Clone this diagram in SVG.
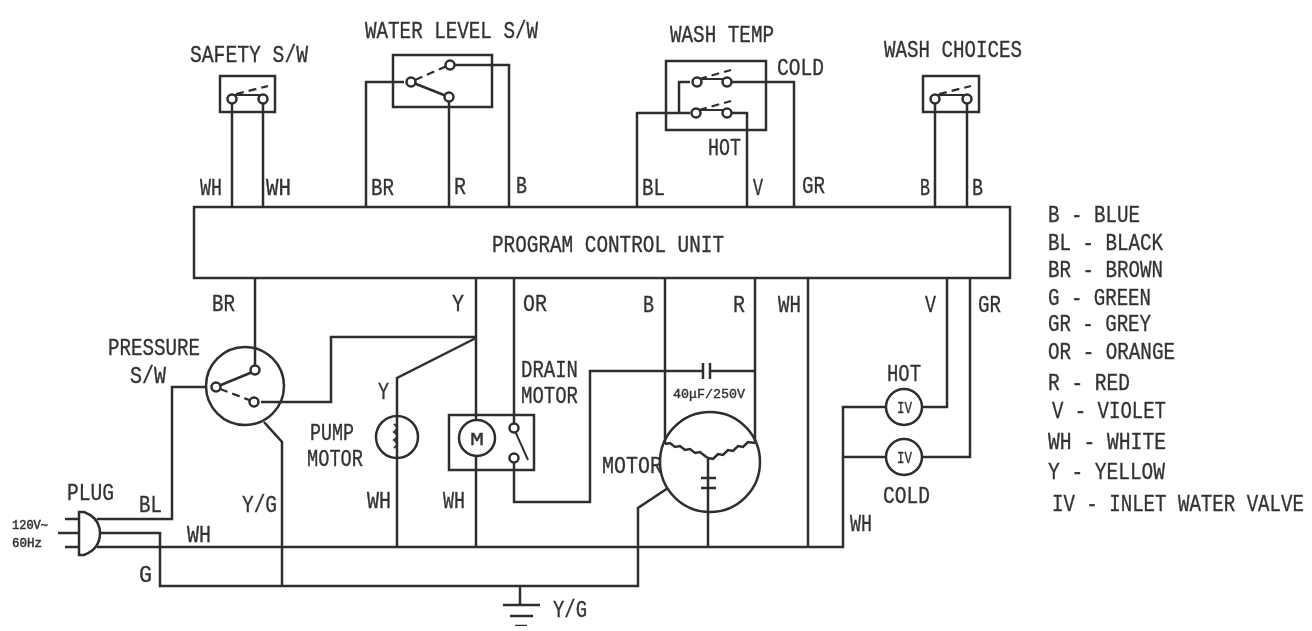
<svg xmlns="http://www.w3.org/2000/svg" width="1312" height="631" viewBox="0 0 1312 631">
<style>
text{font-family:"Liberation Mono","DejaVu Sans Mono",monospace;font-size:23px;fill:#333;font-weight:400;stroke:#333;stroke-width:.35}
.s{font-size:12px;stroke-width:.5}
.m{font-size:13px;stroke-width:.4}
.iv{font-size:17px}
.w,.b,.t{fill:none;stroke:#2e2e2e;stroke-width:2.5;stroke-linejoin:miter}
.t{fill:#fff}
.d{fill:none;stroke:#2e2e2e;stroke-width:2.2;stroke-dasharray:8 5}
.c{fill:none;stroke:#2e2e2e;stroke-width:2}
</style>
<defs><filter id="soft" x="0" y="0" width="100%" height="100%"><feGaussianBlur stdDeviation="0.75"/></filter></defs>
<rect width="1312" height="631" fill="#fff"/>
<g filter="url(#soft)">
<g id="connectors">
<path class="w" d="M232 99V207M263 99V207"/>
<path class="w" d="M404 82H366V207M449 97V207M449 65H509V207"/>
<path class="w" d="M690 82H679V114M727 82H794V207M690 113H637V207M727 113H747V207"/>
<path class="w" d="M935 99V207M967 99V207"/>
<path class="w" d="M255 278V365M207 387H172V519H97M261 402H331V337H476M476 278V420M476 456V547"/>
<path class="w" d="M476 338L397 378V547"/>
<path class="w" d="M514 278V423M514 463V502H590V371H703M710 371H755"/>
<path class="w" d="M665 278V444M755 278V443M808 278V547"/>
<path class="w" d="M100 533H160V586H638V508L668 488"/>
<path class="w" d="M264 422L282 442V586"/>
<path class="w" d="M97 547H843V407H886M843 457H886M922 407H947V278M922 457H970V278"/>
<path class="w" d="M708 512V547"/>
<path class="w" d="M520 586V605"/>
</g>
<g id="program-control-unit">
<rect class="b" x="194" y="207" width="816" height="71"/>
<text x="492" y="252" textLength="232" lengthAdjust="spacingAndGlyphs">PROGRAM CONTROL UNIT</text>
</g>
<g id="safety-sw">
<rect class="b" x="220" y="76" width="55" height="36"/>
<path class="c" d="M232 95H263"/>
<path class="d" d="M236 94L268 86"/>
<circle class="t" cx="232" cy="99" r="4.500"/><circle class="t" cx="263" cy="99" r="4.500"/>
<text x="190" y="62" textLength="118" lengthAdjust="spacingAndGlyphs">SAFETY S/W</text>
</g>
<g id="water-level-sw">
<rect class="b" x="393" y="55" width="99" height="52"/>
<path class="w" d="M411 82L449 97"/>
<path class="d" d="M415 80L447 66"/>
<circle class="t" cx="411" cy="82" r="4.500"/><circle class="t" cx="449" cy="97" r="4.500"/><circle class="t" cx="450" cy="65" r="4.500"/>
<text x="365" y="38" textLength="173" lengthAdjust="spacingAndGlyphs">WATER LEVEL S/W</text>
</g>
<g id="wash-temp">
<rect class="b" x="666" y="61" width="100" height="69"/>
<path class="d" d="M699 79L731 70M699 110L731 101"/>
<path class="c" d="M697 79H727M697 110H727"/>
<circle class="t" cx="697" cy="82" r="4.500"/><circle class="t" cx="727" cy="82" r="4.500"/>
<circle class="t" cx="696" cy="113" r="4.500"/><circle class="t" cx="727" cy="113" r="4.500"/>
<text x="670" y="42" textLength="104" lengthAdjust="spacingAndGlyphs">WASH TEMP</text>
<text x="777" y="75" textLength="47" lengthAdjust="spacingAndGlyphs">COLD</text>
<text x="708" y="155" textLength="33" lengthAdjust="spacingAndGlyphs">HOT</text>
</g>
<g id="wash-choices">
<rect class="b" x="923" y="76" width="56" height="36"/>
<path class="c" d="M935 95H967"/>
<path class="d" d="M939 94L971 86"/>
<circle class="t" cx="935" cy="99" r="4.500"/><circle class="t" cx="967" cy="99" r="4.500"/>
<text x="884" y="57" textLength="138" lengthAdjust="spacingAndGlyphs">WASH CHOICES</text>
</g>
<g id="pressure-sw">
<circle class="b" cx="245" cy="386" r="39"/>
<path class="w" d="M216 387L255 371"/>
<path class="d" d="M220 389L252 401"/>
<circle class="t" cx="216" cy="387" r="4.500"/><circle class="t" cx="255" cy="370" r="4.500"/><circle class="t" cx="254" cy="402" r="4.500"/>
<text x="108" y="355" textLength="92" lengthAdjust="spacingAndGlyphs">PRESSURE</text>
<text x="130" y="383" textLength="36" lengthAdjust="spacingAndGlyphs">S/W</text>
</g>
<g id="pump-motor">
<circle class="t" cx="397" cy="437" r="21"/>
<path class="w" d="M397 416V458"/>
<path class="c" d="M394 424Q400 428 394 432Q400 436 394 440Q400 444 394 448"/>
<text x="310" y="440" textLength="44" lengthAdjust="spacingAndGlyphs">PUMP</text>
<text x="307" y="466" textLength="56" lengthAdjust="spacingAndGlyphs">MOTOR</text>
</g>
<g id="drain-motor">
<rect class="b" x="449" y="415" width="85" height="55"/>
<circle class="t" cx="477" cy="438" r="18"/>
<path class="c" d="M515 431L528 460"/>
<circle class="t" cx="514" cy="428" r="4.500"/><circle class="t" cx="514" cy="458" r="4.500"/>
<text x="470" y="445" style="font-size:19px" textLength="14" lengthAdjust="spacingAndGlyphs">M</text>
<text x="521" y="377" textLength="57" lengthAdjust="spacingAndGlyphs">DRAIN</text>
<text x="521" y="403" textLength="57" lengthAdjust="spacingAndGlyphs">MOTOR</text>
</g>
<g id="run-capacitor">
<path class="w" d="M703 363V379M710 363V379"/>
<text class="m" x="673" y="398" textLength="72" lengthAdjust="spacingAndGlyphs">40μF/250V</text>
</g>
<g id="motor">
<circle class="b" cx="710" cy="462" r="50"/>
<path class="w" d="M665 444l5 -1 5 4 5 -1 5 4 5 -1 5 4 5 -1 5 4 3 2M708 458l5 1 5 -5 5 1 5 -5 5 1 5 -5 5 1 5 -5 7 1M708 458V512"/>
<path class="w" d="M701 478H716M701 488H716"/>
<text x="602" y="473" textLength="60" lengthAdjust="spacingAndGlyphs">MOTOR</text>
</g>
<g id="hot-valve">
<circle class="t" cx="904" cy="407" r="18"/>
<text class="iv" x="897" y="413" textLength="15" lengthAdjust="spacingAndGlyphs">IV</text>
<text x="887" y="381" textLength="34" lengthAdjust="spacingAndGlyphs">HOT</text>
</g>
<g id="cold-valve">
<circle class="t" cx="904" cy="457" r="18"/>
<text class="iv" x="897" y="463" textLength="15" lengthAdjust="spacingAndGlyphs">IV</text>
<text x="883" y="503" textLength="47" lengthAdjust="spacingAndGlyphs">COLD</text>
</g>
<g id="plug">
<path class="b" d="M79 512H84Q100 518 100 533Q100 549 84 555H79Z"/>
<path class="w" d="M65 519H79M58 533H79M65 547H79"/>
<text x="67" y="500" textLength="47" lengthAdjust="spacingAndGlyphs">PLUG</text>
<text class="s" x="12" y="529" textLength="36" lengthAdjust="spacingAndGlyphs">120V~</text>
<text class="s" x="12" y="547" textLength="30" lengthAdjust="spacingAndGlyphs">60Hz</text>
</g>
<g id="ground">
<path class="w" d="M503 605H540M510 616H533M515 626H527"/>
<text x="553" y="617" textLength="34" lengthAdjust="spacingAndGlyphs">Y/G</text>
</g>
<g id="wire-labels">
<text x="200" y="195" textLength="22" lengthAdjust="spacingAndGlyphs">WH</text>
<text x="266" y="195" textLength="25" lengthAdjust="spacingAndGlyphs">WH</text>
<text x="371" y="195" textLength="23" lengthAdjust="spacingAndGlyphs">BR</text>
<text x="454" y="194" textLength="12" lengthAdjust="spacingAndGlyphs">R</text>
<text x="516" y="193" textLength="11" lengthAdjust="spacingAndGlyphs">B</text>
<text x="642" y="195" textLength="23" lengthAdjust="spacingAndGlyphs">BL</text>
<text x="753" y="195" textLength="10" lengthAdjust="spacingAndGlyphs">V</text>
<text x="802" y="193" textLength="23" lengthAdjust="spacingAndGlyphs">GR</text>
<text x="920" y="195" textLength="10" lengthAdjust="spacingAndGlyphs">B</text>
<text x="972" y="195" textLength="11" lengthAdjust="spacingAndGlyphs">B</text>
<text x="212" y="311" textLength="23" lengthAdjust="spacingAndGlyphs">BR</text>
<text x="452" y="311" textLength="12" lengthAdjust="spacingAndGlyphs">Y</text>
<text x="523" y="311" textLength="24" lengthAdjust="spacingAndGlyphs">OR</text>
<text x="643" y="312" textLength="11" lengthAdjust="spacingAndGlyphs">B</text>
<text x="733" y="312" textLength="12" lengthAdjust="spacingAndGlyphs">R</text>
<text x="778" y="312" textLength="23" lengthAdjust="spacingAndGlyphs">WH</text>
<text x="925" y="312" textLength="11" lengthAdjust="spacingAndGlyphs">V</text>
<text x="978" y="312" textLength="23" lengthAdjust="spacingAndGlyphs">GR</text>
<text x="139" y="512" textLength="23" lengthAdjust="spacingAndGlyphs">BL</text>
<text x="242" y="512" textLength="35" lengthAdjust="spacingAndGlyphs">Y/G</text>
<text x="187" y="542" textLength="24" lengthAdjust="spacingAndGlyphs">WH</text>
<text x="139" y="582" textLength="13" lengthAdjust="spacingAndGlyphs">G</text>
<text x="378" y="399" textLength="11" lengthAdjust="spacingAndGlyphs">Y</text>
<text x="367" y="508" textLength="24" lengthAdjust="spacingAndGlyphs">WH</text>
<text x="443" y="508" textLength="22" lengthAdjust="spacingAndGlyphs">WH</text>
<text x="850" y="531" textLength="22" lengthAdjust="spacingAndGlyphs">WH</text>
</g>
<g id="legend">
<text x="1048" y="222" textLength="92" lengthAdjust="spacingAndGlyphs">B - BLUE</text>
<text x="1048" y="250" textLength="115" lengthAdjust="spacingAndGlyphs">BL - BLACK</text>
<text x="1048" y="277" textLength="115" lengthAdjust="spacingAndGlyphs">BR - BROWN</text>
<text x="1048" y="305" textLength="103" lengthAdjust="spacingAndGlyphs">G - GREEN</text>
<text x="1048" y="331" textLength="103" lengthAdjust="spacingAndGlyphs">GR - GREY</text>
<text x="1048" y="359" textLength="127" lengthAdjust="spacingAndGlyphs">OR - ORANGE</text>
<text x="1048" y="390" textLength="82" lengthAdjust="spacingAndGlyphs">R - RED</text>
<text x="1052" y="418" textLength="114" lengthAdjust="spacingAndGlyphs">V - VIOLET</text>
<text x="1048" y="449" textLength="118" lengthAdjust="spacingAndGlyphs">WH - WHITE</text>
<text x="1048" y="479" textLength="117" lengthAdjust="spacingAndGlyphs">Y - YELLOW</text>
<text transform="translate(1052 511) scale(.83 1)" x="0" y="0">IV - INLET WATER VALVE</text>
</g>
</g>
</svg>
